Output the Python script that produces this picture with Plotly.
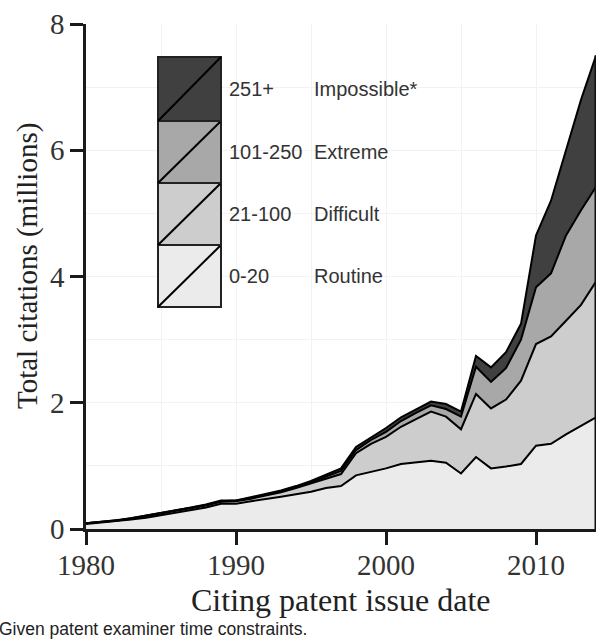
import plotly.graph_objects as go

years = list(range(1980, 2015))
routine = [0.08, 0.10, 0.12, 0.15, 0.18, 0.22, 0.26, 0.30, 0.34, 0.40,
           0.40, 0.44, 0.47, 0.51, 0.55, 0.59, 0.65, 0.68, 0.85, 0.90,
           0.96, 1.03, 1.05, 1.08, 1.05, 0.88, 1.14, 0.96, 0.99, 1.03,
           1.32, 1.35, 1.50, 1.63, 1.77]
difficult = [0.01, 0.01, 0.01, 0.01, 0.02, 0.03, 0.03, 0.03, 0.03, 0.03,
             0.04, 0.04, 0.06, 0.07, 0.10, 0.13, 0.15, 0.19, 0.35, 0.45,
             0.50, 0.59, 0.69, 0.78, 0.73, 0.70, 1.00, 0.95, 1.06, 1.32,
             1.61, 1.70, 1.80, 1.92, 2.15]
extreme = [0.00, 0.00, 0.00, 0.01, 0.01, 0.00, 0.01, 0.01, 0.01, 0.01,
           0.01, 0.01, 0.01, 0.02, 0.02, 0.02, 0.03, 0.05, 0.05, 0.06,
           0.08, 0.09, 0.10, 0.10, 0.12, 0.20, 0.43, 0.42, 0.50, 0.65,
           0.90, 1.00, 1.35, 1.50, 1.50]
impossible = [0.00, 0.00, 0.01, 0.00, 0.00, 0.01, 0.00, 0.00, 0.01, 0.01,
              0.00, 0.01, 0.01, 0.01, 0.01, 0.02, 0.03, 0.04, 0.05, 0.04,
              0.06, 0.06, 0.05, 0.06, 0.08, 0.08, 0.17, 0.23, 0.25, 0.25,
              0.82, 1.15, 1.35, 1.75, 2.08]

series_names = ["0-20", "21-100", "101-250", "251+"]
series_labels = ["Routine", "Difficult", "Extreme", "Impossible*"]
series_values = [routine, difficult, extreme, impossible]
fill_colors = ["#ebebeb", "#cdcdcd", "#a8a8a8", "#404040"]

x_ticks = [1980, 1990, 2000, 2010]
y_ticks = [0, 2, 4, 6, 8]

x_title = "Citing patent issue date"
y_title = "Total citations (millions)"
caption = "Given patent examiner time constraints."

W, H = 598, 644
L, R, T, B = 86, 2, 24, 115
PW, PH = W - L - R, H - T - B


def px(xp):
    return (xp - L) / PW


def py(yp):
    return (H - B - yp) / PH


fig = go.Figure()
for name, vals, col in zip(series_names, series_values, fill_colors):
    fig.add_trace(go.Scatter(
        x=years, y=vals, name=name, stackgroup="one", mode="lines",
        line=dict(color="#000000", width=2), fillcolor=col,
        showlegend=False, hoverinfo="skip"))

total_last = sum(v[-1] for v in series_values)
fig.add_trace(go.Scatter(x=[years[-1], years[-1]], y=[0, total_last], mode="lines",
                         line=dict(color="#111111", width=3), showlegend=False,
                         hoverinfo="skip", cliponaxis=False))

shapes = []
annotations = []
key_left, key_right = 158, 221
key_tops = [245, 183, 121, 57]
key_bottoms = [307, 245, 183, 121]
legend_font = dict(family="Liberation Sans", size=20, color="#333333")
for i, (name, lab, col) in enumerate(zip(series_names, series_labels, fill_colors)):
    t, b = key_tops[i], key_bottoms[i]
    shapes.append(dict(type="rect", xref="paper", yref="paper",
                       x0=px(key_left), x1=px(key_right), y0=py(b), y1=py(t),
                       fillcolor=col, line=dict(color="#222222", width=2)))
    shapes.append(dict(type="line", xref="paper", yref="paper",
                       x0=px(key_left), x1=px(key_right), y0=py(b), y1=py(t),
                       line=dict(color="#000000", width=2)))
    yc = (t + b) / 2
    annotations.append(dict(xref="paper", yref="paper", x=px(227), y=py(yc),
                            text=name, showarrow=False, xanchor="left", yanchor="middle",
                            font=legend_font))
    annotations.append(dict(xref="paper", yref="paper", x=px(312), y=py(yc),
                            text=lab, showarrow=False, xanchor="left", yanchor="middle",
                            font=legend_font))

annotations.append(dict(xref="paper", yref="paper", x=px(-3), y=py(629),
                        text=caption, showarrow=False,
                        xanchor="left", yanchor="middle",
                        font=dict(family="Liberation Sans", size=17.5, color="#222222")))
annotations.append(dict(xref="paper", yref="paper", x=px(341), y=py(600),
                        text=x_title, showarrow=False, xanchor="center", yanchor="middle",
                        font=dict(family="Liberation Serif", size=32, color="#222222")))
annotations.append(dict(xref="paper", yref="paper", x=px(27), y=py(266),
                        text=y_title, showarrow=False, xanchor="center", yanchor="middle",
                        textangle=-90,
                        font=dict(family="Liberation Serif", size=29, color="#222222")))

axis_font = dict(family="Liberation Serif", size=29, color="#333333")

fig.update_layout(
    width=W, height=H, autosize=False,
    margin=dict(l=L, r=R, t=T, b=B, pad=0),
    paper_bgcolor="white", plot_bgcolor="white",
    shapes=shapes, annotations=annotations,
    xaxis=dict(range=[1980, 2014], tickvals=x_ticks, ticktext=[str(v) for v in x_ticks],
               automargin=False,
               ticks="outside", ticklen=13, tickwidth=2.5, tickcolor="#1a1a1a",
               ticklabelstandoff=-5,
               showline=True, linewidth=2.5, linecolor="#1a1a1a",
               showgrid=True, gridcolor="#f2f2f2", gridwidth=1, zeroline=False,
               minor=dict(dtick=5, tick0=1980, showgrid=True, gridcolor="#f2f2f2", gridwidth=1),
               tickfont=axis_font),
    yaxis=dict(range=[0, 8], tickvals=y_ticks, ticktext=[str(v) for v in y_ticks],
               automargin=False,
               ticks="outside", ticklen=13, tickwidth=2.5, tickcolor="#1a1a1a",
               showline=True, linewidth=2.5, linecolor="#1a1a1a",
               showgrid=True, gridcolor="#f2f2f2", gridwidth=1, zeroline=False,
               minor=dict(dtick=1, tick0=0, showgrid=True, gridcolor="#f2f2f2", gridwidth=1),
               tickfont=axis_font),
)

fig.write_html(
    "out.html",
    config={"displayModeBar": False},
    post_script="document.body.style.margin='0';document.body.style.padding='0';"
                "document.body.style.overflow='hidden';",
)
